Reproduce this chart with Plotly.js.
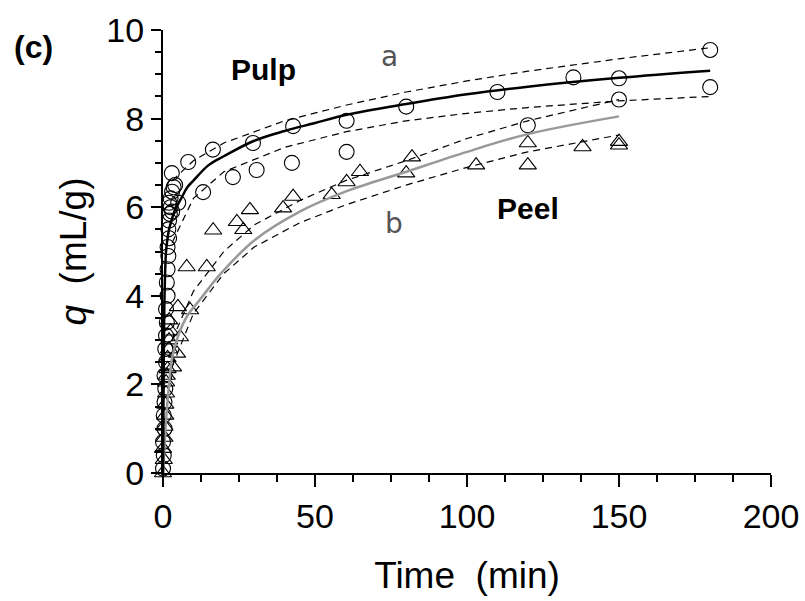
<!DOCTYPE html>
<html>
<head>
<meta charset="utf-8">
<script src="https://cdn.plot.ly/plotly-3.0.1.min.js"></script>
<style>html,body{margin:0;padding:0;background:#fff;}#chart{width:805px;height:601px;}</style>
</head>
<body>
<div id="chart"></div>
<script>
// Pulp (circles) measured data
const pulpT = [0, 0.25, 0, 0.5, 0.25, 0.5, 0.75, 0.5, 1, 0.75, 1, 1.25, 1, 1.5, 1.25, 1.5, 1.75, 1.5, 2, 1.75, 2, 2.25, 2.5, 2, 2.5, 3, 3, 3.5, 4, 2.9, 5, 8.3, 16.4, 29.6, 42.8, 60.4, 13.2, 23, 30.8, 42.4, 60.4, 80, 110, 135, 150, 180, 150, 180, 120];
const pulpQ = [0.1, 0.4, 0.7, 1.0, 1.3, 1.6, 1.9, 2.2, 2.5, 2.8, 3.1, 3.4, 3.7, 4.0, 4.3, 4.6, 4.9, 5.1, 5.3, 5.5, 5.7, 5.85, 6.0, 6.1, 6.2, 6.35, 5.9, 6.45, 6.5, 6.77, 6.1, 7.02, 7.3, 7.45, 7.83, 7.95, 6.34, 6.68, 6.84, 7.0, 7.25, 8.27, 8.6, 8.93, 8.91, 9.55, 8.43, 8.71, 7.85];
// Peel (triangles) measured data
const peelT = [0, 0.25, 0, 0.5, 0.5, 0.75, 0.75, 1, 1, 1.25, 1.5, 1.5, 2, 2, 2.5, 3.3, 4.6, 5.6, 4.9, 8.9, 2, 7.8, 14.4, 16.5, 24.3, 26.4, 28.6, 39.5, 42.8, 55.5, 60.4, 64.8, 80, 81.9, 103, 120, 120, 138, 150, 150];
const peelQ = [0, 0.3, 0.55, 0.8, 1.05, 1.3, 1.55, 1.8, 2.05, 2.2, 2.35, 2.6, 2.8, 3.0, 3.2, 2.39, 2.7, 3.07, 3.75, 3.68, 3.45, 4.65, 4.65, 5.48, 5.67, 5.49, 5.94, 5.98, 6.24, 6.28, 6.57, 6.8, 6.77, 7.13, 6.95, 7.45, 6.95, 7.36, 7.4, 7.48];
// Fitted curve a (pulp) and its band
const fitAT = [0, 0.2, 0.5, 1, 1.5, 2, 3, 4, 6, 8, 10, 15, 20, 30, 40, 50, 60, 80, 100, 120, 150, 180];
const fitAQ = [0, 2.0, 4.0, 5.0, 5.3, 5.5, 5.75, 5.95, 6.2, 6.45, 6.6, 6.95, 7.15, 7.5, 7.72, 7.9, 8.08, 8.33, 8.55, 8.72, 8.92, 9.08];
const bandAT = [3, 10, 20, 40, 60, 80, 100, 120, 150, 180];
const bandAUp = [6.6, 7.05, 7.45, 7.95, 8.3, 8.6, 8.85, 9.07, 9.35, 9.6];
const bandALo = [5.2, 6.2, 6.8, 7.35, 7.7, 7.95, 8.12, 8.25, 8.4, 8.5];
// Fitted curve b (peel) and its band
const fitBT = [0, 1, 2, 3, 5, 8, 12, 19, 30, 45, 60, 80, 100, 120, 150];
const fitBQ = [0, 1.2, 2.0, 2.6, 3.1, 3.55, 3.9, 4.5, 5.25, 5.9, 6.35, 6.8, 7.25, 7.65, 8.05];
const bandBT = [3, 10, 20, 30, 45, 60, 80, 100, 120, 150];
const bandBUp = [3.0, 4.1, 5.0, 5.6, 6.15, 6.6, 7.05, 7.55, 7.95, 8.43];
const bandBLo = [2.4, 3.6, 4.5, 5.1, 5.65, 6.05, 6.5, 6.9, 7.25, 7.63];
const xTicks = [0, 50, 100, 150, 200];
const yTicks = [0, 2, 4, 6, 8, 10];

const dashLine = {color: '#000', width: 1.2, dash: '7px,5px'};
const traces = [
  {x: bandAT, y: bandAUp, mode: 'lines', line: dashLine, hoverinfo: 'skip'},
  {x: bandAT, y: bandALo, mode: 'lines', line: dashLine, hoverinfo: 'skip'},
  {x: bandBT, y: bandBUp, mode: 'lines', line: dashLine, hoverinfo: 'skip'},
  {x: bandBT, y: bandBLo, mode: 'lines', line: dashLine, hoverinfo: 'skip'},
  {x: pulpT, y: pulpQ, mode: 'markers', cliponaxis: false,
   marker: {symbol: 'circle-open', size: 15, color: '#000', line: {width: 1.1, color: '#000'}}},
  {x: peelT, y: peelQ, mode: 'markers', cliponaxis: false,
   marker: {symbol: 'triangle-up-open', size: 15, color: '#000', line: {width: 1.1, color: '#000'}}},
  {x: fitBT, y: fitBQ, mode: 'lines', line: {color: '#999', width: 2.5, shape: 'spline'}},
  {x: fitAT, y: fitAQ, mode: 'lines', line: {color: '#000', width: 2.5, shape: 'spline'}}
];

const plotL = 163, plotR = 34, plotT = 30, plotB = 128, W = 805, H = 601;
const px = v => (v - plotL) / (W - plotL - plotR);
const py = v => (H - plotB - v) / (H - plotB - plotT);

const layout = {
  width: W, height: H,
  margin: {l: plotL, r: plotR, t: plotT, b: plotB},
  paper_bgcolor: '#fff', plot_bgcolor: '#fff',
  showlegend: false,
  font: {family: 'Liberation Sans, Arial, sans-serif', color: '#000'},
  xaxis: {
    range: [0, 200], tickvals: xTicks, ticktext: xTicks.map(String),
    showgrid: false, zeroline: false, showline: true, linecolor: '#000', linewidth: 2,
    ticks: 'outside', ticklen: 12, tickwidth: 2, tickcolor: '#000',
    minor: {dtick: 12.5, tick0: 0, ticks: 'outside', ticklen: 7, tickwidth: 2, tickcolor: '#000', showgrid: false},
    tickfont: {size: 34, family: 'Liberation Sans, Arial, sans-serif'},
    title: {text: 'Time\u00a0\u00a0(min)', font: {size: 37}, standoff: 28}
  },
  yaxis: {
    range: [0, 10], tickvals: yTicks, ticktext: yTicks.map(String),
    showgrid: false, zeroline: false, showline: true, linecolor: '#000', linewidth: 2,
    ticks: 'outside', ticklen: 10, tickwidth: 2, tickcolor: '#000',
    minor: {dtick: 0.5, tick0: 0, ticks: 'outside', ticklen: 6, tickwidth: 2, tickcolor: '#000', showgrid: false},
    tickfont: {size: 34, family: 'Liberation Sans, Arial, sans-serif'},
    title: {text: '<i>q</i>\u00a0\u00a0(mL/g)', font: {size: 37}, standoff: 8}
  },
  annotations: [
    {text: '<b>(c)</b>', x: px(12), y: py(47), xanchor: 'left', yanchor: 'middle', xref: 'paper', yref: 'paper', showarrow: false, font: {size: 32}},
    {text: '<b>Pulp</b>', x: 33, y: 9.1, xref: 'x', yref: 'y', showarrow: false, font: {size: 30}},
    {text: 'a', x: 74.5, y: 9.4, xref: 'x', yref: 'y', showarrow: false, font: {size: 28, color: '#555', family: 'DejaVu Sans, sans-serif'}},
    {text: '<b>Peel</b>', x: 120, y: 5.98, xref: 'x', yref: 'y', showarrow: false, font: {size: 30}},
    {text: 'b', x: 76, y: 5.63, xref: 'x', yref: 'y', showarrow: false, font: {size: 28, color: '#555', family: 'DejaVu Sans, sans-serif'}}
  ]
};

Plotly.newPlot('chart', traces, layout, {staticPlot: true, displayModeBar: false});
</script>
</body>
</html>
